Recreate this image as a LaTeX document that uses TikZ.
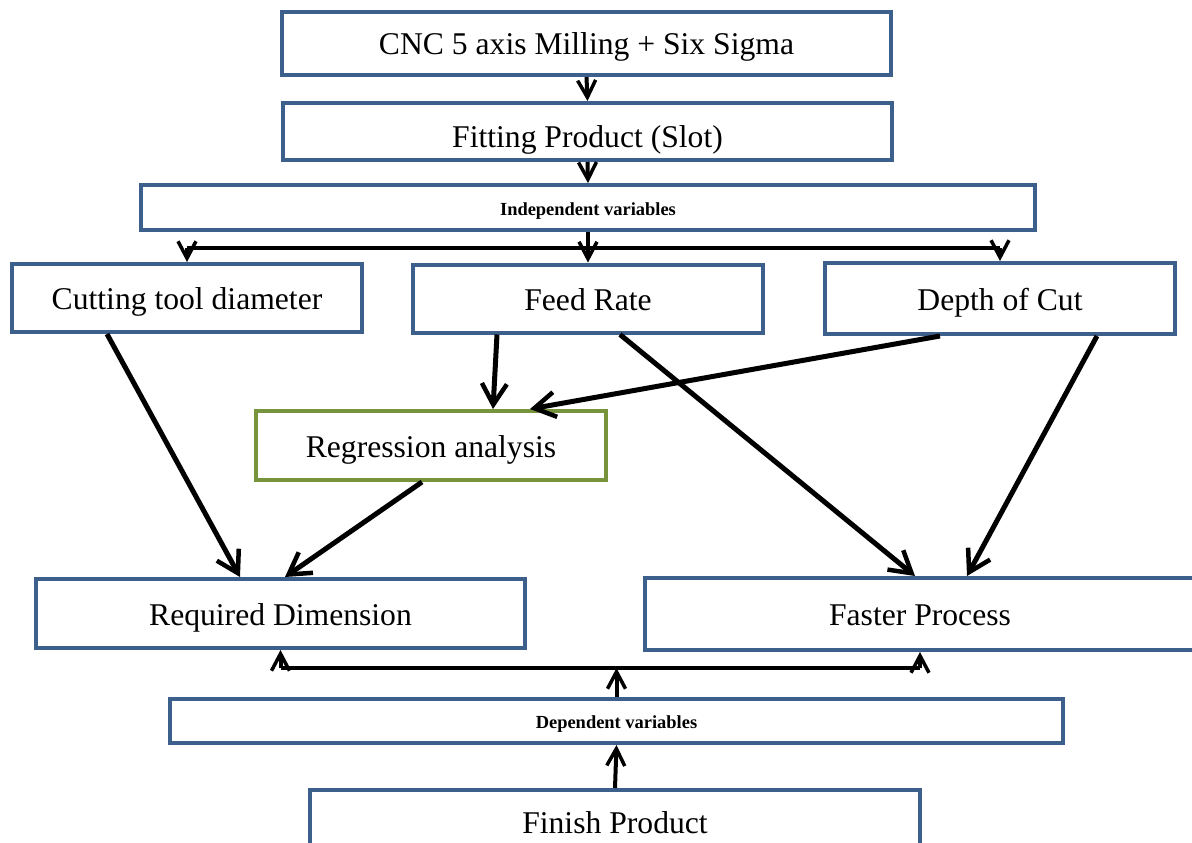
\documentclass[tikz,border=0pt]{standalone}
\usepackage{fontspec}
\setmainfont{Liberation Serif}
\usetikzlibrary{arrows.meta}
\definecolor{boxblue}{RGB}{61,95,140}
\definecolor{boxgreen}{RGB}{119,147,60}
\tikzset{
	box/.style={draw=boxblue, line width=0.8mm, minimum width=7cm, minimum height=1.36cm, inner sep=0pt, text height=0.6cm, text depth=0.14cm, font=\fontsize{18}{20}\selectfont},
	regbox/.style={box, draw=boxgreen},
	varbox/.style={box, minimum width=17.88cm, minimum height=0.9cm, text height=0.45cm, text depth=0.15cm, font=\fontsize{10.5}{12}\selectfont\bfseries},
	thinarrow/.style={line width=0.8mm, -{Straight Barb[length=3.4mm, width=3.6mm, line width=0.7mm]}},
	thickarrow/.style={line width=1mm, -{Straight Barb[length=4.2mm, width=5mm, line width=0.9mm]}},
	busline/.style={line width=0.8mm}
}

\begin{document}
\begin{tikzpicture}
			%%%%% START %%%%%
			
			\useasboundingbox (0, 0) rectangle (23.84, -16.86);
			
			\node[box, minimum width=12.18cm, minimum height=1.26cm] (cnc) at (11.73, -0.87) {CNC 5 axis Milling + Six Sigma};
			\node[box, minimum width=12.18cm, minimum height=1.14cm, text height=0.76cm] (fit) at (11.75, -2.63) {Fitting Product (Slot)};
			\node[varbox] (indep) at (11.76, -4.15) {Independent variables};
			
			\node[box] (cut) at (3.74, -5.96) {Cutting tool diameter};
			\node[box] (feed) at (11.76, -5.97) {Feed Rate};
			\node[box, minimum height=1.42cm] (depth) at (20.0, -5.97) {Depth of Cut};
			
			\node[regbox, minimum height=1.38cm] (reg) at (8.62, -8.91) {Regression analysis};
			
			\node[box, minimum width=9.78cm, minimum height=1.38cm] (req) at (5.61, -12.27) {Required Dimension};
			\node[box, minimum width=11cm, minimum height=1.44cm] (fast) at (18.4, -12.28) {Faster Process};
			
			\node[varbox, minimum width=17.86cm, minimum height=0.88cm] (dep) at (12.33, -14.42) {Dependent variables};
			\node[box, minimum width=12.2cm, minimum height=1.26cm] (fin) at (12.3, -16.43) {Finish Product};
			
			\coordinate (ibus) at (11.76, -4.96);
			\coordinate (dbus) at (12.33, -13.36);
			
			% top chain
			\draw[thinarrow] (cnc.south) -- (fit.north);
			\draw[thinarrow] (fit.south) -- (indep.north);
			
			% independent variables
			\draw[busline] (cut.north |- ibus) -- (depth.north |- ibus);
			\draw[thinarrow] (indep.south) -- (feed.north);
			\draw[thinarrow] (cut.north |- ibus) -- (cut.north);
			\draw[thinarrow] (depth.north |- ibus) -- (depth.north);
			
			% to regression and results
			\draw[thickarrow] ([xshift=-1.82cm]feed.south) -- ([xshift=1.24cm]reg.north);
			\draw[thickarrow] ([xshift=-1.2cm]depth.south) -- ([xshift=1.98cm]reg.north);
			\draw[thickarrow] ([xshift=0.64cm]feed.south) -- ([xshift=-0.1cm]fast.north);
			\draw[thickarrow] ([xshift=1.94cm]depth.south) -- ([xshift=0.94cm]fast.north);
			\draw[thickarrow] ([xshift=-1.6cm]cut.south) -- ([xshift=-0.81cm]req.north);
			\draw[thickarrow] ([xshift=-0.18cm]reg.south) -- ([xshift=0.09cm]req.north);
			
			% dependent variables
			\draw[busline] (req.south |- dbus) -- (fast.south |- dbus);
			\draw[thinarrow] (dep.north) -- (dbus);
			\draw[thinarrow] (req.south |- dbus) -- (req.south);
			\draw[thinarrow] (fast.south |- dbus) -- (fast.south);
			\draw[thinarrow] (fin.north) -- (dep.south);
			
			%%%%% END %%%%%
		\end{tikzpicture}
\end{document}
